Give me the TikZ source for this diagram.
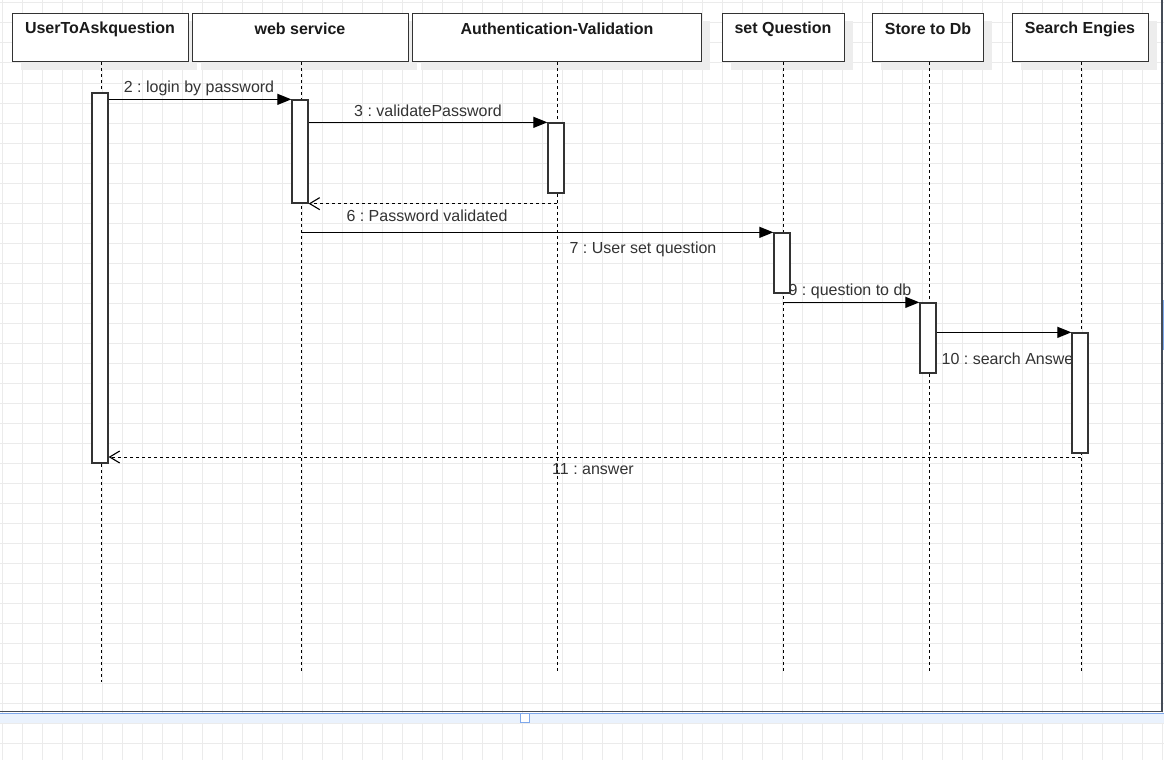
\documentclass[tikz,border=0pt]{standalone}
\usepackage{fontspec}
\setmainfont{Liberation Sans}
\usetikzlibrary{arrows.meta}
\frenchspacing
\definecolor{gridc}{HTML}{EBEBEB}
\definecolor{txt}{HTML}{333333}
\definecolor{hdr}{HTML}{1A1A1A}
\definecolor{shadowc}{HTML}{EDEDED}
\definecolor{framec}{HTML}{454C57}
\definecolor{selblue}{HTML}{7EA8EC}
\definecolor{selband}{HTML}{EAF2FD}
\tikzset{
  gridline/.style={gridc, line width=1pt},
  header/.style={draw=txt, line width=1.3pt, fill=white, rectangle, inner sep=0pt,
     minimum height=48pt, anchor=north west},
  hdrshadow/.style={fill=shadowc, draw=none},
  hdrtext/.style={font=\fontsize{16}{19}\selectfont\bfseries\frenchspacing, text=hdr, inner sep=0pt},
  lifeline/.style={draw=black, line width=1pt, dash pattern=on 3pt off 3pt},
  actbox/.style={draw=txt, line width=1.3pt, fill=white, rectangle, inner sep=0pt, minimum width=16pt},
  msg/.style={draw=black, line width=1.2pt, -{Triangle[length=14pt, width=11pt]}},
  retmsg/.style={draw=black, line width=1pt, dash pattern=on 3pt off 3pt,
     -{Straight Barb[length=10pt, width=12pt, line width=1.1pt]}},
  msglabel/.style={font=\fontsize{16}{19}\selectfont\frenchspacing, text=txt, inner sep=0pt}
}
\begin{document}
\begin{tikzpicture}[x=1pt, y=-1pt]
\useasboundingbox (0,0) rectangle (1164,760);
\fill[white] (0,0) rectangle (1164,760);
% grid
\foreach \gx in {2,22,...,1162} \draw[gridline] (\gx,0) -- (\gx,760);
\foreach \gy in {3,23,...,760} \draw[gridline] (0,\gy) -- (1164,\gy);
% frame and selection
\fill[selband] (0,713) rectangle (1164,722.5);
\draw[selblue, line width=1.5pt] (0,713.5) -- (1164,713.5);
\draw[framec, line width=1.8pt] (0,711.5) -- (1161.8,711.5) -- (1161.8,0);
\fill[selblue] (1162.6,300) rectangle (1164,350);
\draw[selblue, line width=1.5pt, fill=white] (520.5,713.5) rectangle (529.5,722.5);
% header shadows
\foreach \xa/\xb in {12/188, 192/408, 412/701, 722/844, 872/983, 1012/1148}
  \fill[hdrshadow] (\xa+9,21) rectangle (\xb+9,70);
% headers
\node[header, minimum width=176pt] (h1) at (12,13) {};
\node[header, minimum width=216pt] (h2) at (192,13) {};
\node[header, minimum width=289pt] (h3) at (412,13) {};
\node[header, minimum width=122pt] (h4) at (722,13) {};
\node[header, minimum width=111pt] (h5) at (872,13) {};
\node[header, minimum width=136pt] (h6) at (1012,13) {};
\node[hdrtext] (t1) at (100,29) {UserToAskquestion};
\node[hdrtext] (t2) at (300,29) {web service};
\node[hdrtext] (t3) at (557,29) {Authentication-Validation};
\node[hdrtext] (t4) at (783,29) {set Question};
\node[hdrtext] (t5) at (928,29) {Store to Db};
\node[hdrtext] (t6) at (1080,29) {Search Engies};
% lifeline ends
\coordinate (e1) at (101,682);
\coordinate (e2) at (301,672);
\coordinate (e3) at (557,672);
\coordinate (e4) at (783,672);
\coordinate (e5) at (929,672);
\coordinate (e6) at (1081,672);
\draw[lifeline] (h1.south -| e1) -- (e1);
\draw[lifeline] (h2.south -| e2) -- (e2);
\draw[lifeline] (h3.south -| e3) -- (e3);
\draw[lifeline] (h4.south -| e4) -- (e4);
\draw[lifeline] (h5.south -| e5) -- (e5);
\draw[lifeline] (h6.south -| e6) -- (e6);
% activation boxes
\node[actbox, minimum height=370pt] (a1) at (100,278) {};
\node[actbox, minimum height=103pt] (a2) at (300,151.5) {};
\node[actbox, minimum height=70pt] (a3) at (556,158) {};
\node[actbox, minimum height=60pt] (a4) at (782,263) {};
\node[actbox, minimum height=70pt] (a5) at (928,338) {};
\node[actbox, minimum height=120pt] (a6) at (1080,393) {};
% messages
\draw[msg] (a1.east |- a2.north) -- (a2.north west);
\draw[msg] (a2.east |- a3.north) -- (a3.north west);
\draw[retmsg] (e3 |- a2.south) -- (a2.south east);
\draw[msg] (e2 |- a4.north) -- (a4.north west);
\draw[msg] (e4 |- a5.north) -- (a5.north west);
\draw[msg] (a5.east |- a6.north) -- (a6.north west);
\coordinate (r11) at (1081,457);
\draw[retmsg] (r11) -- (a1.east |- r11);
% labels
\node[msglabel] (l2) at (199,88) {2 : login by password};
\node[msglabel] (l3) at (428,111) {3 : validatePassword};
\node[msglabel] (l6) at (427,216) {6 : Password validated};
\node[msglabel] (l7) at (643,249) {7 : User set question};
\node[msglabel] (l9) at (850,291) {9 : question to db};
\node[msglabel, anchor=west] (l10) at (941.5,359) {10 : search Answe};
\node[msglabel] (l11) at (593,469) {11 : answer};
\end{tikzpicture}
\end{document}
